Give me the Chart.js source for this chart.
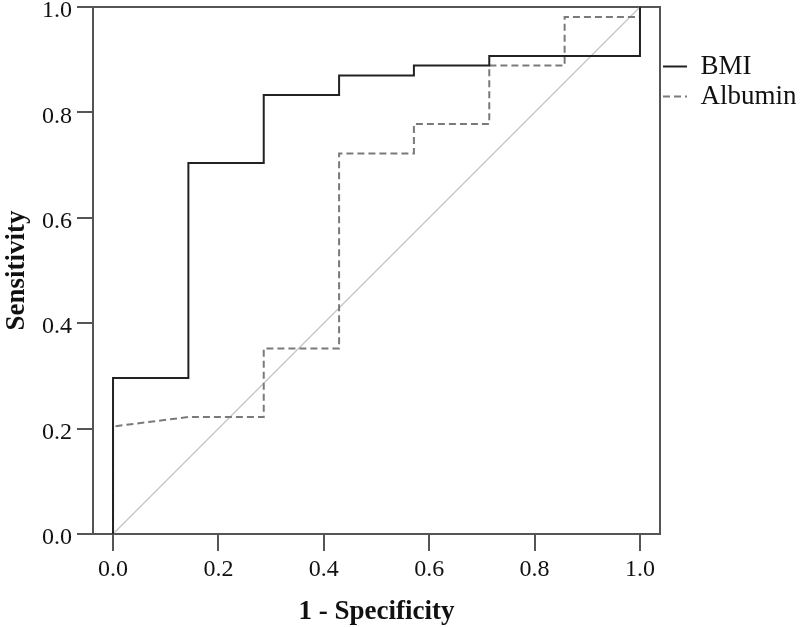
<!DOCTYPE html>
<html>
<head>
<meta charset="utf-8">
<script src="https://cdn.jsdelivr.net/npm/chart.js@4"></script>
<style>
  html, body { margin: 0; padding: 0; background: #ffffff; }
  #wrap { width: 800px; height: 627px; }
</style>
</head>
<body>
<div id="wrap"><canvas id="c" width="800" height="627"></canvas></div>
<script>
// ---- data ----
const seriesNames = ['BMI', 'Albumin'];
const bmiFpr = [0, 0, 0.143, 0.143, 0.286, 0.286, 0.429, 0.429, 0.571, 0.571, 0.714, 0.714, 1.0, 1.0];
const bmiTpr = [0, 0.296, 0.296, 0.704, 0.704, 0.833, 0.833, 0.870, 0.870, 0.889, 0.889, 0.907, 0.907, 1.0];
const albFpr = [0, 0, 0.143, 0.286, 0.286, 0.429, 0.429, 0.571, 0.571, 0.714, 0.714, 0.857, 0.857, 1.0, 1.0];
const albTpr = [0, 0.204, 0.222, 0.222, 0.352, 0.352, 0.722, 0.722, 0.778, 0.778, 0.889, 0.889, 0.981, 0.981, 1.0];
const refFpr = [0, 1];
const refTpr = [0, 1];
const xTicks = [0.0, 0.2, 0.4, 0.6, 0.8, 1.0];
const yTicks = [0.0, 0.2, 0.4, 0.6, 0.8, 1.0];
const xTitle = '1 - Specificity';
const yTitle = 'Sensitivity';

const zip = (xs, ys) => xs.map((x, i) => ({ x: x, y: ys[i] }));

const FONT = "'Liberation Serif', 'Times New Roman', serif";
const AXIS_COLOR = '#555555';

const frameAxis = (position, axis) => ({
  type: 'linear',
  position: position,
  axis: axis,
  display: true,
  min: axis === 'x' ? -0.038 : 0,
  max: axis === 'x' ? 1.038 : 1,
  ticks: { display: false },
  grid: { display: true, drawOnChartArea: false, drawTicks: false },
  border: { display: true, color: AXIS_COLOR, width: 2 }
});

new Chart(document.getElementById('c'), {
  type: 'scatter',
  data: {
    datasets: [
      {
        label: seriesNames[0],
        data: zip(bmiFpr, bmiTpr),
        showLine: true,
        borderColor: '#222222',
        backgroundColor: '#222222',
        borderWidth: 2,
        pointRadius: 0,
        tension: 0
      },
      {
        label: seriesNames[1],
        data: zip(albFpr, albTpr),
        showLine: true,
        borderColor: '#7a7a7a',
        backgroundColor: '#7a7a7a',
        borderWidth: 2,
        borderDash: [7, 4],
        pointRadius: 0,
        tension: 0
      },
      {
        label: 'reference',
        data: zip(refFpr, refTpr),
        showLine: true,
        borderColor: '#c4c4c4',
        backgroundColor: '#c4c4c4',
        borderWidth: 1.3,
        pointRadius: 0,
        tension: 0
      }
    ]
  },
  options: {
    responsive: false,
    animation: false,
    devicePixelRatio: 1,
    layout: { autoPadding: false, padding: { top: 7, left: 0, right: 0, bottom: 0 } },
    plugins: {
      tooltip: { enabled: false },
      legend: {
        display: true,
        position: 'right',
        align: 'start',
        maxWidth: 140,
        title: { display: true, text: '', font: { size: 10, lineHeight: 1 }, padding: { top: 33, bottom: 0 } },
        labels: {
          filter: (item) => item.datasetIndex < 2,
          usePointStyle: true,
          pointStyle: 'line',
          pointStyleWidth: 24,
          padding: 3,
          color: '#111111',
          font: { family: FONT, size: 27 },
          generateLabels: (chart) => {
            const items = Chart.defaults.plugins.legend.labels.generateLabels(chart);
            return items.map(it => {
              const ds = chart.data.datasets[it.datasetIndex];
              it.lineDash = ds.borderDash || [];
              it.strokeStyle = ds.borderColor;
              it.lineWidth = ds.borderWidth;
              return it;
            });
          }
        }
      }
    },
    scales: {
      x: {
        type: 'linear',
        position: 'bottom',
        min: -0.038,
        max: 1.038,
        afterBuildTicks: (scale) => { scale.ticks = xTicks.map(v => ({ value: v })); },
        ticks: {
          color: '#111111',
          font: { family: FONT, size: 24 },
          padding: 4,
          maxRotation: 0,
          callback: (v) => Number(v).toFixed(1)
        },
        grid: { drawOnChartArea: false, drawTicks: true, tickLength: 17, color: AXIS_COLOR, lineWidth: 2 },
        border: { display: true, color: AXIS_COLOR, width: 2 },
        title: {
          display: true,
          text: xTitle,
          color: '#111111',
          font: { family: FONT, size: 27, weight: 'bold', lineHeight: 1.1 },
          padding: { top: 9.5, bottom: 0 }
        }
      },
      y: {
        type: 'linear',
        position: 'left',
        min: 0,
        max: 1,
        afterBuildTicks: (scale) => { scale.ticks = yTicks.map(v => ({ value: v })); },
        ticks: {
          color: '#111111',
          font: { family: FONT, size: 24, lineHeight: 0.1 },
          padding: 5,
          labelOffset: 4,
          callback: (v) => Number(v).toFixed(1)
        },
        grid: { drawOnChartArea: false, drawTicks: true, tickLength: 16, color: AXIS_COLOR, lineWidth: 2 },
        border: { display: true, color: AXIS_COLOR, width: 2 },
        title: {
          display: true,
          text: yTitle,
          color: '#111111',
          font: { family: FONT, size: 27, weight: 'bold', lineHeight: 1.1 },
          padding: { top: 2, bottom: 5.3 }
        }
      },
      x2: frameAxis('top', 'x'),
      y2: frameAxis('right', 'y')
    }
  }
});
</script>
</body>
</html>
